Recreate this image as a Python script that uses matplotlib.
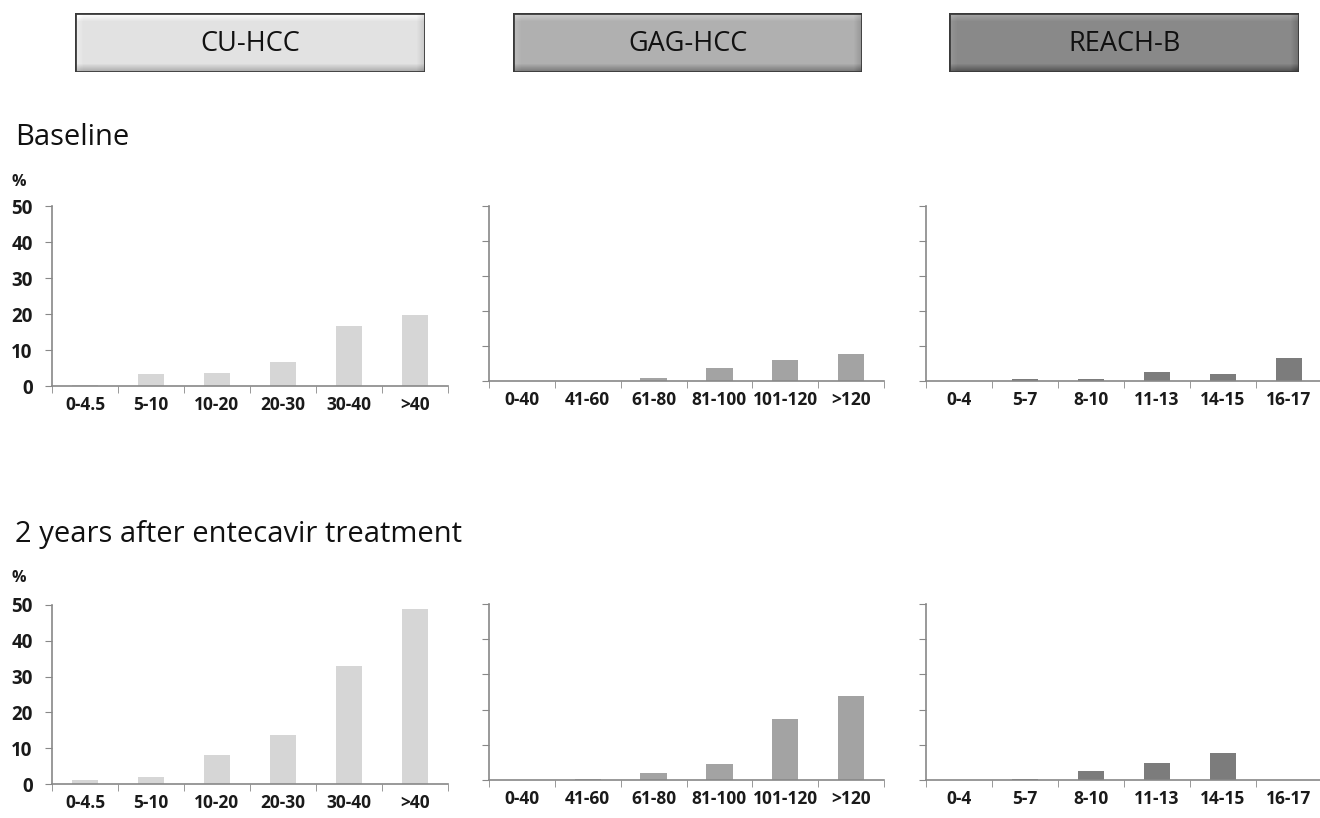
import numpy as np
import matplotlib.pyplot as plt
from matplotlib.patches import Rectangle

plt.rcParams['font.family'] = ['Open Sans', 'DejaVu Sans']

scores = ['CU-HCC', 'GAG-HCC', 'REACH-B']

cu_labels = ['0-4.5', '5-10', '10-20', '20-30', '30-40', '>40']
gag_labels = ['0-40', '41-60', '61-80', '81-100', '101-120', '>120']
reach_labels = ['0-4', '5-7', '8-10', '11-13', '14-15', '16-17']

cu_baseline = [0.2, 3.2, 3.7, 6.8, 16.6, 19.6]
gag_baseline = [0.0, 0.0, 0.9, 3.6, 6.0, 7.7]
reach_baseline = [0.0, 0.5, 0.5, 2.5, 2.1, 6.5]

cu_2yr = [1.1, 1.9, 8.0, 13.6, 33.0, 48.8]
gag_2yr = [0.0, 0.4, 2.1, 4.5, 17.2, 23.9]
reach_2yr = [0.0, 0.4, 2.5, 4.8, 7.6, 0.0]

bar_colors = ['#d6d6d6', '#a3a3a3', '#7c7c7c']
box_colors = ['#e2e2e2', '#b0b0b0', '#8a8a8a']

W, H = 1320, 818
fig = plt.figure(figsize=(W / 100, H / 100), dpi=100)


def px_axes(left, top, right, bottom):
    # pixel box -> figure fraction
    return fig.add_axes([left / W, 1 - bottom / H, (right - left) / W, (bottom - top) / H])


# beveled header boxes
boxes = [(75, 13, 425, 72), (513, 13, 862, 72), (949, 13, 1299, 72)]
for (l, t, r, b), name, col in zip(boxes, scores, box_colors):
    ax = px_axes(l, t, r, b)
    w, h = r - l, b - t
    yy, xx = np.mgrid[0:h, 0:w]
    base = int(col[1:3], 16) / 255
    shade = np.full((h, w), base)
    bev = 8
    top_m = yy < bev
    shade[top_m] += 0.12 * (1 - yy[top_m] / bev)
    left_m = xx < bev
    shade[left_m] += 0.05 * (1 - xx[left_m] / bev)
    bot_m = h - 1 - yy < bev
    shade[bot_m] -= 0.22 * (1 - (h - 1 - yy[bot_m]) / bev)
    right_m = w - 1 - xx < bev
    shade[right_m] -= 0.10 * (1 - (w - 1 - xx[right_m]) / bev)
    shade = np.clip(shade, 0, 1)
    ax.imshow(shade, cmap='gray', vmin=0, vmax=1, aspect='auto', interpolation='bilinear')
    ax.add_patch(Rectangle((-0.5, -0.5), w, h, fill=False, edgecolor='#3a3a3a', lw=2))
    ax.set_xlim(-0.5, w - 0.5)
    ax.set_ylim(h - 0.5, -0.5)
    ax.axis('off')
    ax.text(w / 2, h / 2 + 1, name, ha='center', va='center', fontsize=19.5, color='#111111')

fig.text(15 / W, 1 - 145 / H, 'Baseline', fontsize=21, color='#111111', va='baseline')
fig.text(15 / W, 1 - 542 / H, '2 years after entecavir treatment', fontsize=21,
         color='#111111', va='baseline')

rows = [
    [cu_baseline, gag_baseline, reach_baseline],
    [cu_2yr, gag_2yr, reach_2yr],
]
labels = [cu_labels, gag_labels, reach_labels]
positions = [
    [(52, 206, 448, 386), (489, 206, 884, 381), (926, 206, 1322, 381)],
    [(52, 605, 448, 784), (489, 604, 884, 780), (926, 604, 1322, 780)],
]
pct_y = [182, 578]

for r, row in enumerate(rows):
    fig.text(11 / W, 1 - pct_y[r] / H, '%', fontsize=11.5, fontweight='bold',
             color='#1a1a1a', ha='left', va='center')
    for c, vals in enumerate(row):
        l, t, rr, b = positions[r][c]
        ax = px_axes(l, t, rr, b)
        x = np.arange(len(vals))
        ax.bar(x, vals, width=0.4, color=bar_colors[c], zorder=2)
        ax.set_xlim(-0.5, len(vals) - 0.5)
        ax.set_ylim(0, 50)
        ax.set_yticks(range(0, 51, 10))
        ax.set_xticks(x)
        ax.set_xticklabels(labels[c], fontsize=12.5, fontweight='bold', color='#1a1a1a')
        ax.set_xticks(np.arange(-0.5, len(vals)), minor=True)
        ax.tick_params(axis='x', which='major', length=0, pad=7)
        ax.tick_params(axis='x', which='minor', length=5, color='#888888', direction='out')
        ax.tick_params(axis='y', length=5, color='#888888', direction='out', pad=9,
                       labelsize=13.5, labelcolor='#1a1a1a')
        for lab in ax.get_yticklabels():
            lab.set_fontweight('bold')
        if c > 0:
            ax.set_yticklabels([])
        for s in ['top', 'right']:
            ax.spines[s].set_visible(False)
        for s in ['left', 'bottom']:
            ax.spines[s].set_color('#888888')
            ax.spines[s].set_linewidth(1.2)

fig.savefig('out.png', dpi=100)
